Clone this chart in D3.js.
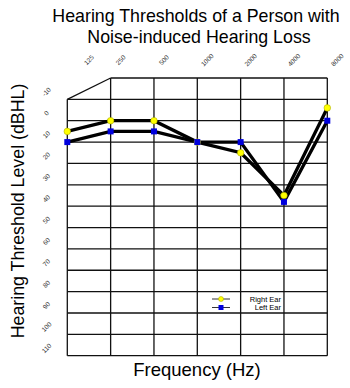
<!DOCTYPE html>
<html>
<head>
<meta charset="utf-8">
<script src="https://cdn.jsdelivr.net/npm/d3@7"></script>
<style>
  body { margin: 0; background: #fff; }
  svg { display: block; font-family: "Liberation Sans", Arial, sans-serif; }
</style>
</head>
<body>
<div id="chart"></div>
<script>
// -----------------------------------------------------------------------------
// Data
var frequencies = ["125", "250", "500", "1000", "2000", "4000", "8000"]
var levelTicks = [-10, 0, 10, 20, 30, 40, 50, 60, 70, 80, 90, 100, 110]
var rightEar = [5, 0, 0, 10, 15, 35, -6]
var leftEar = [10, 5, 5, 10, 10, 38, 0]

var width = 350,
    height = 388
    col_left = 67.3 // x of first frequency column
    col_right = 327.3
    y_top = 78 // top of frame (-20 dB)
    y_bottom = 355.7

var svg = d3.select("#chart")
    .append("svg")
    .attr("width", width)
    .attr("height", height);

var x = d3.scalePoint()
    .domain(frequencies)
    .range([col_left, col_right]);

var y = d3.scaleLinear()
    .domain([-20, 110])
    .range([y_top, y_bottom]);

// -----------------------------------------------------------------------------
// Grid / frame
var grid = svg.append("g")
    .attr("stroke", "#111")
    .attr("stroke-width", 1.3);

// horizontal lines
grid.selectAll(".hline")
    .data(levelTicks)
    .enter().append("line")
    .attr("x1", col_left)
    .attr("x2", col_right)
    .attr("y1", function(d) { return y(d); })
    .attr("y2", function(d) { return y(d); });

// top line starts at 250 Hz
grid.append("line")
    .attr("x1", x("250"))
    .attr("x2", col_right)
    .attr("y1", y(-20))
    .attr("y2", y(-20));

// slanted corner
grid.append("line")
    .attr("x1", x("125"))
    .attr("y1", y(-10))
    .attr("x2", x("250"))
    .attr("y2", y(-20));

// verticals
grid.selectAll(".vline")
    .data(frequencies)
    .enter().append("line")
    .attr("x1", function(d) { return x(d); })
    .attr("x2", function(d) { return x(d); })
    .attr("y1", function(d, i) { return i == 0 ? y(-10) : y(-20); })
    .attr("y2", y(110));

// -----------------------------------------------------------------------------
// Tick labels (rotated)
var tick_size = 6.5

svg.selectAll(".xlabel")
    .data(frequencies)
    .enter().append("text")
    .attr("font-size", tick_size)
    .attr("fill", "#333")
    .attr("text-anchor", "middle")
    .attr("transform", function(d, i) {
        // first label sits over the slanted corner
        var px = i == 0 ? (x("125") + x("250")) / 2 : x(d) + 10
        return "translate(" + px + "," + 60 + ")rotate(-45)"
    })
    .attr("dy", "0.35em")
    .text(function(d) { return d; });

svg.selectAll(".ylabel")
    .data(levelTicks)
    .enter().append("text")
    .attr("font-size", tick_size)
    .attr("fill", "#333")
    .attr("text-anchor", "middle")
    .attr("transform", function(d) {
        return "translate(" + 46.5 + "," + (y(d) - 7.5) + ")rotate(-45)"
    })
    .attr("dy", "0.35em")
    .text(function(d) { return d; });

// -----------------------------------------------------------------------------
// Lines + markers
var valueline = d3.line()
    .x(function(d, i) { return x(frequencies[i]); })
    .y(function(d) { return y(d); });

svg.append("path")
    .attr("d", valueline(rightEar))
    .attr("fill", "none")
    .attr("stroke", "#000")
    .attr("stroke-width", 3.3);

svg.append("path")
    .attr("d", valueline(leftEar))
    .attr("fill", "none")
    .attr("stroke", "#000")
    .attr("stroke-width", 3.3);

svg.selectAll(".right")
    .data(rightEar)
    .enter().append("circle")
    .attr("cx", function(d, i) { return x(frequencies[i]); })
    .attr("cy", function(d) { return y(d); })
    .attr("r", 3.3)
    .attr("fill", "#ffff00")
    .attr("stroke", "#a0a000")
    .attr("stroke-width", 0.5);

svg.selectAll(".left")
    .data(leftEar)
    .enter().append("rect")
    .attr("x", function(d, i) { return x(frequencies[i]) - 3; })
    .attr("y", function(d) { return y(d) - 3; })
    .attr("width", 6)
    .attr("height", 6)
    .attr("fill", "#0000dd");

// -----------------------------------------------------------------------------
// Legend
var legend = svg.append("g")
    .attr("transform", "translate(" + 212 + "," + 299 + ")")

var legend_items = [{name: "Right Ear", type: "circle"}, {name: "Left Ear", type: "rect"}]

legend_items.forEach(function(item, i) {
    var row = legend.append("g").attr("transform", "translate(0," + (i * 8.5) + ")")
    row.append("line")
        .attr("x1", 0).attr("x2", 18)
        .attr("stroke", "#000").attr("stroke-width", 0.8);
    if (item.type == "circle") {
        row.append("circle").attr("cx", 9).attr("r", 2.5)
            .attr("fill", "#ffff00").attr("stroke", "#a0a000").attr("stroke-width", 0.5);
    } else {
        row.append("rect").attr("x", 6.5).attr("y", -2.5).attr("width", 5).attr("height", 5)
            .attr("fill", "#0000dd");
    }
    row.append("text")
        .attr("x", 69)
        .attr("dy", "0.35em")
        .attr("text-anchor", "end")
        .attr("font-size", 7.5)
        .text(item.name);
});

// -----------------------------------------------------------------------------
// Titles
svg.append("text")
    .attr("x", 196)
    .attr("y", 22)
    .attr("text-anchor", "middle")
    .attr("font-size", 17.8)
    .text("Hearing Thresholds of a Person with");

svg.append("text")
    .attr("x", 199)
    .attr("y", 43)
    .attr("text-anchor", "middle")
    .attr("font-size", 17.8)
    .text("Noise-induced Hearing Loss");

// X-Axis Title
svg.append("text")
    .attr("text-anchor", "middle")
    .attr("x", 197)
    .attr("y", 376)
    .attr("font-size", 18.5)
    .text("Frequency (Hz)");

// Y-Axis Title
svg.append("text")
    .attr("text-anchor", "middle")
    .attr("transform", "translate(" + 24 + "," + 211 + ")rotate(-90)")
    .attr("font-size", 17.8)
    .text("Hearing Threshold Level (dBHL)");
</script>
</body>
</html>
